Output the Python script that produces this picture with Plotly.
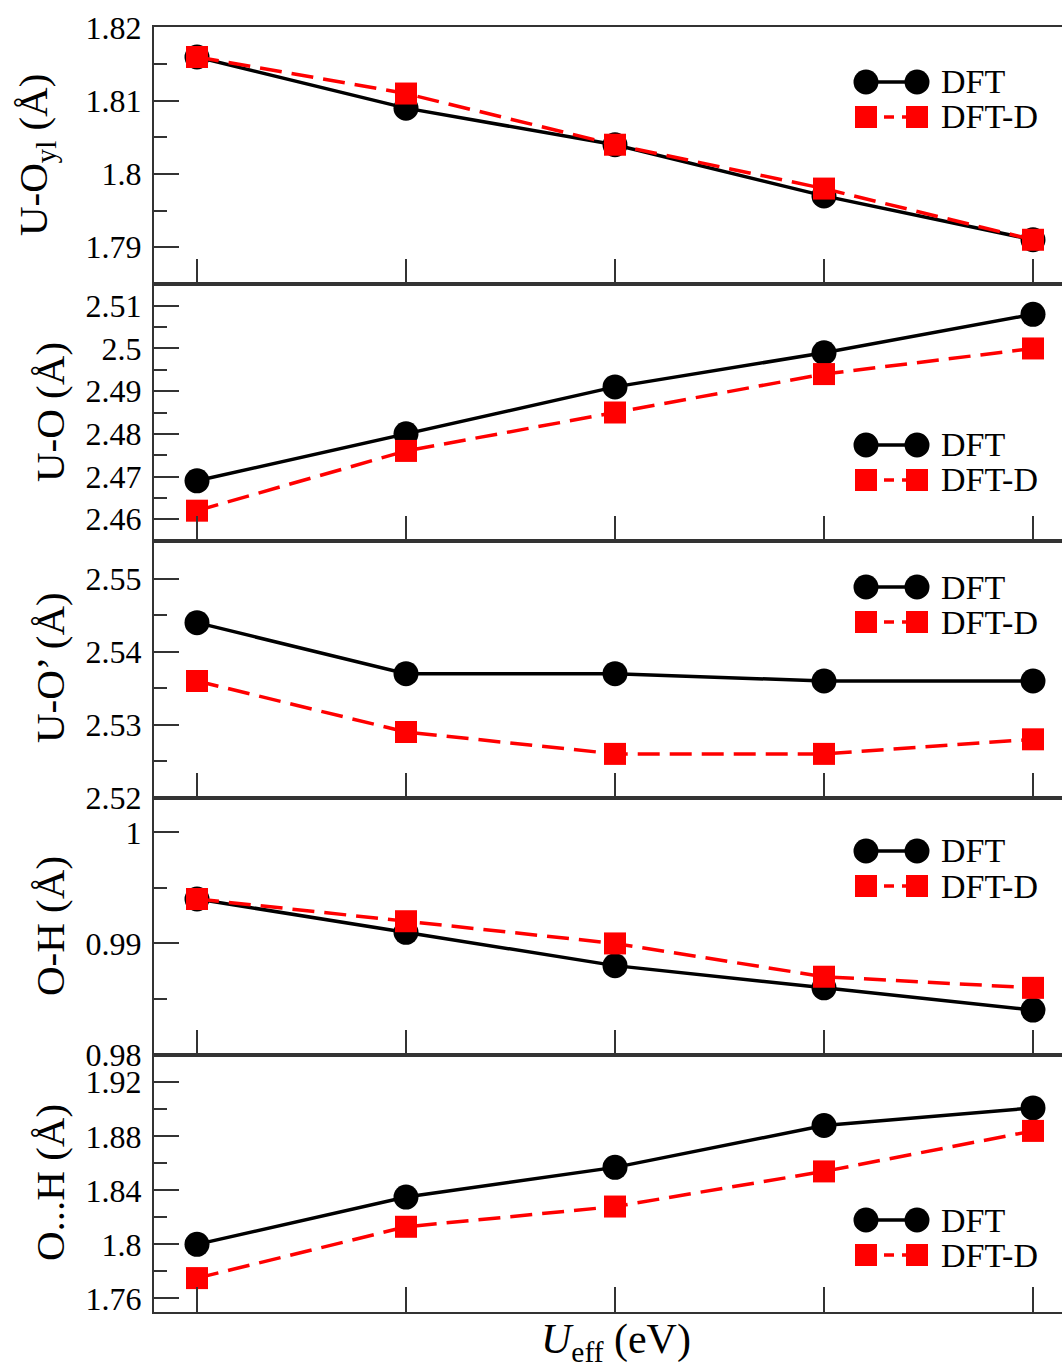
import plotly.graph_objects as go
from plotly.subplots import make_subplots

# ---- data ----
ueff = [0, 1, 2, 3, 4]

uoyl_dft = [1.816, 1.809, 1.804, 1.797, 1.791]
uoyl_dftd = [1.816, 1.811, 1.804, 1.798, 1.791]

uo_dft = [2.469, 2.480, 2.491, 2.499, 2.508]
uo_dftd = [2.462, 2.476, 2.485, 2.494, 2.500]

uop_dft = [2.544, 2.537, 2.537, 2.536, 2.536]
uop_dftd = [2.536, 2.529, 2.526, 2.526, 2.528]

oh_dft = [0.994, 0.991, 0.988, 0.986, 0.984]
oh_dftd = [0.994, 0.992, 0.990, 0.987, 0.986]

ohb_dft = [1.800, 1.835, 1.857, 1.888, 1.901]
ohb_dftd = [1.775, 1.813, 1.828, 1.854, 1.884]

series_names = ["DFT", "DFT-D"]
y_titles = ["U-O<sub>yl</sub> (Å)", "U-O (Å)", "U-O’ (Å)", "O-H (Å)", "O...H (Å)"]
x_title = "<i>U</i><sub>eff</sub> (eV)"

panels = [
    (uoyl_dft, uoyl_dftd),
    (uo_dft, uo_dftd),
    (uop_dft, uop_dftd),
    (oh_dft, oh_dftd),
    (ohb_dft, ohb_dftd),
]

# ---- layout geometry ----
W, H = 1062, 1370
L, R, T, B = 154, 0, 27, 58
PW, PH = W - L - R, H - T - B

y_ranges = [
    [1.78495, 1.8201],
    [2.4549, 2.5151],
    [2.51995, 2.5552],
    [0.97995, 1.0031],
    [1.7499, 1.9402],
]
y_dticks = [0.01, 0.01, 0.01, 0.01, 0.04]

FONT = "Liberation Serif"
AX = "#333333"

fig = make_subplots(rows=5, cols=1, shared_xaxes=False, vertical_spacing=0)

for i, (d1, d2) in enumerate(panels):
    r = i + 1
    fig.add_trace(go.Scatter(
        x=ueff, y=d1, mode="lines+markers", name=series_names[0],
        line=dict(color="black", width=3.5),
        marker=dict(symbol="circle", size=25, color="black"),
        showlegend=False), row=r, col=1)
    fig.add_trace(go.Scatter(
        x=ueff, y=d2, mode="lines+markers", name=series_names[1],
        line=dict(color="#ff0000", width=3.5, dash="22px,10px"),
        marker=dict(symbol="square", size=22, color="#ff0000"),
        showlegend=False), row=r, col=1)
    fig.update_yaxes(
        range=y_ranges[i], dtick=y_dticks[i], tick0=0,
        ticks="inside", ticklen=25, tickwidth=2, tickcolor=AX,
        minor=dict(dtick=y_dticks[i] / 2, ticks="inside", ticklen=13,
                   tickwidth=2, tickcolor=AX),
        showline=True, linecolor=AX, linewidth=2, mirror=False,
        showgrid=False, zeroline=False,
        tickfont=dict(family=FONT, size=32, color="black"),
        ticklabelstandoff=4,
        row=r, col=1)
    fig.update_xaxes(
        range=[-43 / 209, (PW - 43) / 209],
        tickvals=ueff, showticklabels=False,
        ticks="inside", ticklen=25, tickwidth=2, tickcolor=AX,
        showline=True, linecolor=AX, linewidth=2, mirror=True,
        showgrid=False, zeroline=False,
        row=r, col=1)


def px2paper(px, py):
    return (px - L) / PW, (H - B - py) / PH


shapes = []
annotations = []

# legends (one per panel)
legend_rows = [(82, 117), (445, 480), (587, 622), (851, 886), (1220, 1255)]
for (ya, yb) in legend_rows:
    xa0, _ = px2paper(866, ya)
    xa1, _ = px2paper(917, ya)
    _, pya = px2paper(0, ya)
    _, pyb = px2paper(0, yb)
    # DFT
    shapes.append(dict(type="line", xref="paper", yref="paper",
                       x0=xa0, x1=xa1, y0=pya, y1=pya,
                       line=dict(color="black", width=3.5)))
    for xx in (xa0, xa1):
        shapes.append(dict(type="circle", xref="paper", yref="paper",
                           xsizemode="pixel", ysizemode="pixel",
                           xanchor=xx, yanchor=pya,
                           x0=-12.5, x1=12.5, y0=-12.5, y1=12.5,
                           fillcolor="black", line=dict(width=0)))
    # DFT-D
    shapes.append(dict(type="line", xref="paper", yref="paper",
                       x0=xa0, x1=xa1, y0=pyb, y1=pyb,
                       line=dict(color="#ff0000", width=3.5, dash="10px,8px")))
    for xx in (xa0, xa1):
        shapes.append(dict(type="rect", xref="paper", yref="paper",
                           xsizemode="pixel", ysizemode="pixel",
                           xanchor=xx, yanchor=pyb,
                           x0=-11, x1=11, y0=-11, y1=11,
                           fillcolor="#ff0000", line=dict(width=0)))
    xt, _ = px2paper(939, ya)
    for txt, yy in ((series_names[0], pya), (series_names[1], pyb)):
        annotations.append(dict(text=txt, xref="paper", yref="paper",
                                x=xt, y=yy, xanchor="left", yanchor="middle",
                                showarrow=False,
                                font=dict(family=FONT, size=34, color="black")))

# y-axis titles
title_pos = [(36, 155), (50, 412), (50, 668), (50, 926), (50, 1183)]
for t, (tx, ty) in zip(y_titles, title_pos):
    px_, py_ = px2paper(tx, ty)
    annotations.append(dict(text=t, xref="paper", yref="paper",
                            x=px_, y=py_, xanchor="center", yanchor="middle",
                            textangle=-90, showarrow=False,
                            font=dict(family=FONT, size=41, color="black")))

# x-axis title
px_, py_ = px2paper(616, 1342)
annotations.append(dict(text=x_title, xref="paper", yref="paper",
                        x=px_, y=py_, xanchor="center", yanchor="middle",
                        showarrow=False,
                        font=dict(family=FONT, size=42, color="black")))

fig.update_layout(
    width=W, height=H,
    margin=dict(l=L, r=R, t=T, b=B, pad=0),
    paper_bgcolor="white", plot_bgcolor="white",
    showlegend=False,
    shapes=shapes, annotations=annotations,
)

fig.write_html(
    "out.html",
    config={"displayModeBar": False},
    post_script="document.body.style.margin='0';document.body.style.overflow='hidden';",
)
